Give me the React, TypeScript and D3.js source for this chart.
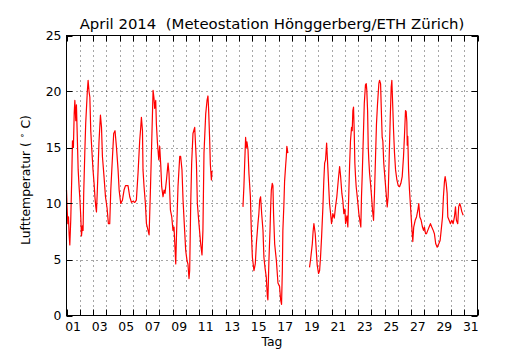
import React, { useEffect, useRef } from "react";
import * as d3 from "d3";

// time in days since 1 April 2014 00:00, temperature in °C (null = no data)
const time = [
  0.0, 0.05, 0.1, 0.15, 0.2, 0.25, 0.32, 0.4, 0.45, 0.52, 0.58, 0.63, 0.7, 0.75, 0.88, 0.95,
  1.0, 1.07, 1.13, 1.2, 1.25, 1.3, 1.38, 1.45, 1.51, 1.57, 1.63, 1.7, 1.76, 1.83, 1.91,
  2.0, 2.08, 2.15, 2.21, 2.26, 2.32, 2.38, 2.45, 2.51, 2.56, 2.64, 2.71, 2.83, 2.94,
  3.06, 3.16, 3.26, 3.34, 3.46, 3.56, 3.66, 3.77, 3.89, 3.97,
  4.09, 4.22, 4.34, 4.45, 4.52, 4.64, 4.77, 4.9,
  5.02, 5.15, 5.27, 5.4, 5.52, 5.6, 5.65, 5.73, 5.77, 5.85, 5.95,
  6.03, 6.15, 6.23, 6.33, 6.43, 6.53, 6.6, 6.65, 6.73, 6.78, 6.86, 6.96,
  7.03, 7.11, 7.18, 7.28, 7.36, 7.43, 7.54, 7.66, 7.73, 7.84, 7.94,
  8.03, 8.11, 8.24, 8.29, 8.41, 8.54, 8.61, 8.71, 8.79, 8.91, 8.99,
  9.09, 9.16, 9.24, 9.29, 9.37, 9.44, 9.54, 9.67, 9.8, 9.87, 9.99,
  10.12, 10.22, 10.29, 10.37, 10.5, 10.6, 10.67, 10.72, 10.8, 10.85, 10.93, 10.97,
  12.0,
  13.31, 13.38, 13.44, 13.51, 13.56, 13.61, 13.69, 13.76, 13.87, 13.94,
  14.02, 14.08, 14.14, 14.24, 14.32, 14.44, 14.51, 14.57, 14.64, 14.72, 14.82, 14.89, 14.97,
  15.07, 15.15, 15.19, 15.27, 15.35, 15.4, 15.45, 15.52, 15.57, 15.62, 15.7, 15.83, 15.95,
  16.07, 16.15, 16.22, 16.28, 16.32, 16.4, 16.45, 16.53, 16.58, 16.62, 16.7,
  17.5,
  18.33, 18.41, 18.54, 18.6, 18.66, 18.76, 18.84, 18.91,
  19.01, 19.09, 19.16, 19.24, 19.34, 19.41, 19.47, 19.54, 19.62, 19.72, 19.79, 19.84, 19.92, 19.99,
  20.09, 20.2, 20.29, 20.39, 20.5, 20.6, 20.67, 20.77, 20.84, 20.92,
  21.0, 21.05, 21.15, 21.22, 21.3, 21.35, 21.42, 21.5, 21.55, 21.6, 21.65, 21.7, 21.75, 21.8, 21.85, 21.93, 21.98,
  22.05, 22.16, 22.2, 22.25, 22.31, 22.38, 22.46, 22.55, 22.61, 22.65, 22.71, 22.76, 22.8, 22.86, 22.93,
  23.01, 23.08, 23.16, 23.23, 23.31, 23.38, 23.46, 23.56, 23.61, 23.69, 23.74, 23.81, 23.86, 23.93,
  24.01, 24.11, 24.19, 24.26, 24.34, 24.42, 24.49, 24.54, 24.61, 24.67, 24.74, 24.82, 24.92,
  25.02, 25.12, 25.22, 25.32, 25.42, 25.49, 25.57, 25.62, 25.67, 25.7, 25.74, 25.8, 25.87, 25.95,
  26.04, 26.12, 26.19, 26.3, 26.4, 26.5, 26.57, 26.65, 26.75, 26.85, 26.93,
  27.0, 27.08, 27.15, 27.25, 27.35, 27.45, 27.55, 27.66, 27.75, 27.85, 27.96,
  28.08, 28.18, 28.26, 28.36, 28.43, 28.51, 28.56, 28.64, 28.71, 28.76, 28.86, 28.96,
  29.06, 29.16, 29.26, 29.34, 29.41, 29.51, 29.58, 29.66, 29.74, 29.81, 29.92,
];

const temp = [
  11.2, 9.5, 8.2, 8.8, 7.2, 6.3, 8.5, 12.5, 15.6, 15.0, 18.0, 19.2, 17.4, 18.8, 13.0, 11.5,
  10.6, 9.0, 7.1, 8.0, 7.6, 11.0, 14.5, 17.2, 18.6, 20.0, 21.0, 20.0, 19.5, 16.5, 14.8,
  13.0, 11.8, 10.5, 9.7, 9.25, 11.0, 13.0, 15.5, 16.8, 17.9, 16.8, 14.2, 12.4, 10.6,
  9.6, 8.2, 8.2, 11.2, 14.0, 16.25, 16.5, 15.0, 13.0, 11.2,
  10.0, 10.3, 11.2, 11.6, 11.6, 11.6, 10.6, 10.1,
  10.2, 10.1, 10.3, 12.8, 15.6, 16.8, 17.7, 16.5, 13.0, 11.5, 10.0,
  8.2, 7.6, 7.2, 11.2, 15.6, 20.1, 19.4, 18.5, 19.2, 17.1, 15.4, 13.9,
  15.1, 13.4, 11.5, 10.6, 11.2, 10.9, 12.1, 13.6, 12.7, 9.4, 8.8,
  7.6, 7.9, 4.6, 6.9, 11.5, 14.2, 14.2, 13.0, 10.3, 7.6, 5.8,
  4.9, 4.6, 3.3, 4.0, 10.0, 13.6, 16.25, 16.8, 13.6, 10.0, 8.2,
  6.4, 5.4, 7.6, 14.5, 18.0, 19.2, 19.6, 18.4, 15.6, 13.5, 12.1, 12.9,
  null,
  9.7, 11.5, 13.6, 15.9, 15.0, 15.5, 14.8, 12.7, 10.6, 7.6,
  5.2, 4.6, 4.0, 4.6, 6.4, 8.2, 9.1, 10.3, 10.6, 9.1, 7.6, 5.2, 4.3,
  3.4, 1.7, 1.4, 5.0, 7.6, 9.7, 11.2, 11.8, 11.6, 9.0, 6.4, 4.9, 2.9,
  2.6, 1.4, 1.0, 4.0, 7.6, 10.0, 12.0, 13.4, 14.2, 15.1, 14.5,
  null,
  4.3, 5.0, 6.4, 7.5, 8.2, 7.3, 5.8, 4.5,
  3.75, 4.0, 5.2, 7.0, 9.7, 12.1, 13.6, 13.9, 15.4, 13.0, 11.2, 10.0, 9.1, 8.2,
  9.1, 8.7, 9.7, 10.6, 12.1, 13.3, 12.5, 10.9, 10.3, 9.1,
  9.5, 8.2, 8.9, 7.9, 11.2, 13.3, 15.6, 16.8, 16.5, 18.3, 18.6, 16.5, 13.6, 12.4, 11.5, 10.6, 10.0,
  9.1, 8.2, 7.9, 10.6, 12.7, 15.6, 18.9, 20.6, 20.7, 20.1, 18.3, 15.0, 13.9, 12.7, 11.8,
  10.6, 9.4, 8.5, 10.9, 14.2, 17.1, 18.9, 20.7, 21.0, 20.7, 18.6, 15.9, 15.6, 13.6,
  12.4, 10.9, 9.7, 10.6, 14.2, 17.7, 20.4, 21.0, 18.6, 16.5, 14.5, 13.0, 12.1,
  11.6, 11.5, 11.8, 12.4, 14.2, 16.0, 18.3, 18.2, 17.3, 15.2, 16.0, 13.0, 11.2, 9.7,
  8.0, 6.6, 7.9, 8.5, 8.8, 9.4, 10.0, 8.8, 8.5, 7.9, 7.6,
  7.9, 7.3, 7.3, 7.6, 7.9, 8.2, 7.9, 7.6, 7.3, 6.4, 6.1,
  6.4, 6.7, 7.6, 8.8, 10.6, 12.0, 12.4, 11.8, 10.9, 8.8, 8.5, 8.2,
  8.5, 8.2, 8.8, 9.7, 8.5, 8.2, 9.7, 10.0, 9.7, 9.3, 8.95,
];

const dayLabels = ["01", "03", "05", "07", "09", "11", "13", "15", "17", "19", "21", "23", "25", "27", "29", "31"];
const yTicks = [0, 5, 10, 15, 20, 25];

const font = "DejaVu Sans, sans-serif";

export default function App() {
  const ref = useRef<SVGSVGElement>(null);

  useEffect(() => {
    if (!ref.current) return;
    const width = 530;
    const height = 350;
    const left = 66.5, right = 477.5, top = 35.5, bottom = 315.5;

    const svg = d3.select(ref.current);
    svg.selectAll("*").remove();
    svg.attr("width", width).attr("height", height);

    svg.append("rect").attr("width", width).attr("height", height).attr("fill", "#fff");

    const x = d3.scaleLinear().domain([0, 31]).range([left, right]);
    const y = d3.scaleLinear().domain([0, 25]).range([bottom, top]);

    const days = d3.range(0, 32);

    // dotted grid
    const grid = svg.append("g").attr("stroke", "#000").attr("stroke-width", 0.7)
      .attr("stroke-dasharray", "1,4");
    grid.selectAll("line.v").data(days.slice(1, -1)).join("line")
      .attr("x1", (d) => Math.round(x(d)) + 0.5).attr("x2", (d) => Math.round(x(d)) + 0.5)
      .attr("y1", top).attr("y2", bottom);
    grid.selectAll("line.h").data(yTicks.slice(1, -1)).join("line")
      .attr("class", "h")
      .attr("y1", (d) => Math.round(y(d)) + 0.5).attr("y2", (d) => Math.round(y(d)) + 0.5)
      .attr("x1", left).attr("x2", right);

    // data line
    const pts = time.map((t, i) => ({ t, v: temp[i] }));
    const line = d3.line<{ t: number; v: number | null }>()
      .defined((d) => d.v !== null)
      .x((d) => x(d.t))
      .y((d) => y(d.v as number));
    svg.append("path").datum(pts)
      .attr("fill", "none").attr("stroke", "#ff0000").attr("stroke-width", 1.2)
      .attr("stroke-linejoin", "round")
      .attr("d", line);

    // ticks (inward, all sides)
    const ticks = svg.append("g").attr("stroke", "#000").attr("stroke-width", 1);
    days.forEach((d) => {
      const px = Math.round(x(d)) + 0.5;
      ticks.append("line").attr("x1", px).attr("x2", px).attr("y1", bottom).attr("y2", bottom - 6);
      ticks.append("line").attr("x1", px).attr("x2", px).attr("y1", top).attr("y2", top + 6);
    });
    yTicks.forEach((v) => {
      const py = Math.round(y(v)) + 0.5;
      ticks.append("line").attr("x1", left).attr("x2", left + 6).attr("y1", py).attr("y2", py);
      ticks.append("line").attr("x1", right).attr("x2", right - 6).attr("y1", py).attr("y2", py);
    });

    // frame
    svg.append("rect").attr("x", left).attr("y", top)
      .attr("width", right - left).attr("height", bottom - top)
      .attr("fill", "none").attr("stroke", "#000").attr("stroke-width", 1);

    // tick labels
    svg.append("g").selectAll("text").data(dayLabels).join("text")
      .attr("x", (d) => x(+d - 0.5)).attr("y", 331)
      .attr("text-anchor", "middle").attr("font-family", font).attr("font-size", 12.4)
      .text((d) => d);
    svg.append("g").selectAll("text").data(yTicks).join("text")
      .attr("x", 61.5).attr("y", (d) => y(d) + 4)
      .attr("text-anchor", "end").attr("font-family", font).attr("font-size", 12.4)
      .text((d) => d);

    // title and axis labels
    svg.append("text").attr("x", (left + right) / 2).attr("y", 28.5)
      .attr("text-anchor", "middle").attr("font-family", font).attr("font-size", 14.9)
      .style("white-space", "pre")
      .text("April 2014  (Meteostation Hönggerberg/ETH Zürich)");
    svg.append("text").attr("x", (left + right) / 2).attr("y", 346)
      .attr("text-anchor", "middle").attr("font-family", font).attr("font-size", 12.4)
      .text("Tag");
    const yl = svg.append("text").attr("transform", `translate(29.5, 180) rotate(-90)`)
      .attr("text-anchor", "middle").attr("font-family", font).attr("font-size", 12.4)
      .style("white-space", "pre");
    yl.append("tspan").text("Lufttemperatur ( ");
    yl.append("tspan").attr("dy", -5).attr("font-size", 9).text("\u2218");
    yl.append("tspan").attr("dy", 5).text(" C)");
  }, []);

  return (
    <div style={{ position: "absolute", left: 0, top: 0 }}>
      <svg ref={ref} />
    </div>
  );
}
